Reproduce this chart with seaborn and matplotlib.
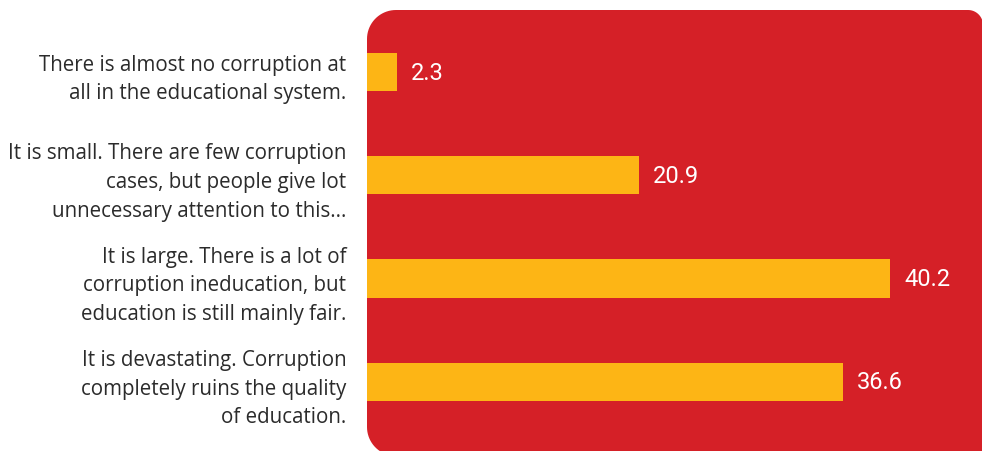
import numpy as np
import pandas as pd
import seaborn as sns
import matplotlib.pyplot as plt
from matplotlib.patches import PathPatch
from matplotlib.path import Path

# answers and shares (%)
answers = ["There is almost no corruption at\nall in the educational system.",
           "It is small. There are few corruption\ncases, but people give lot\nunnecessary attention to this...",
           "It is large. There is a lot of\ncorruption ineducation, but\neducation is still mainly fair.",
           "It is devastating. Corruption\ncompletely ruins the quality\nof education."]
shares = [2.3, 20.9, 40.2, 36.6]

red = "#D52027"
yellow = "#FDB515"

df = pd.DataFrame({"answer": answers, "share": shares})

fig = plt.figure(figsize=(9.82, 4.52), dpi=100)

# background panel in pixel coords
bg = fig.add_axes([0, 0, 1, 1], zorder=0)
bg.set_xlim(0, 982)
bg.set_ylim(452, 0)
bg.axis("off")


def corner(cx, cy, r, a0, a1, n=20):
    t = np.linspace(np.radians(a0), np.radians(a1), n)
    return list(zip(cx + r * np.cos(t), cy + r * np.sin(t)))


x0, x1, y0, y1 = 367, 983, 11, 457
r_big, r_small = 29, 15
pts = []
pts += corner(x0 + r_big, y0 + r_big, r_big, 180, 270)
pts += corner(x1 - r_small, y0 + r_small, r_small, 270, 360)
pts += [(x1, y1), (x1, y1)]
pts += corner(x0 + r_big, y1 - r_big, r_big, 90, 180)
pts.append(pts[0])
bg.add_patch(PathPatch(Path(pts), facecolor=red, edgecolor="none"))

ax = fig.add_axes([367 / 982, 0, 1 - 367 / 982, 1], zorder=1)
ax.patch.set_alpha(0)
sns.barplot(data=df, x="share", y="answer", color=yellow, width=0.37,
            saturation=1, ax=ax)
ax.set_xlim(0, 47.3)
ax.set_ylim(3.669, -0.707)

for i, v in enumerate(shares):
    ax.text(v + 1.1, i, f"{v:.1f}", va="center", ha="left", color="white",
            fontsize=17, family="Roboto")

ax.set_xlabel("")
ax.set_ylabel("")
ax.set_xticks([])
ax.tick_params(axis="y", length=0, pad=15)
ax.set_yticks(range(len(answers)))
ax.set_yticklabels(answers, fontsize=14.8, color="#2b2b2b", family="Open Sans",
                   linespacing=1.48)
for s in ax.spines.values():
    s.set_visible(False)

fig.savefig("out.png", dpi=100)
